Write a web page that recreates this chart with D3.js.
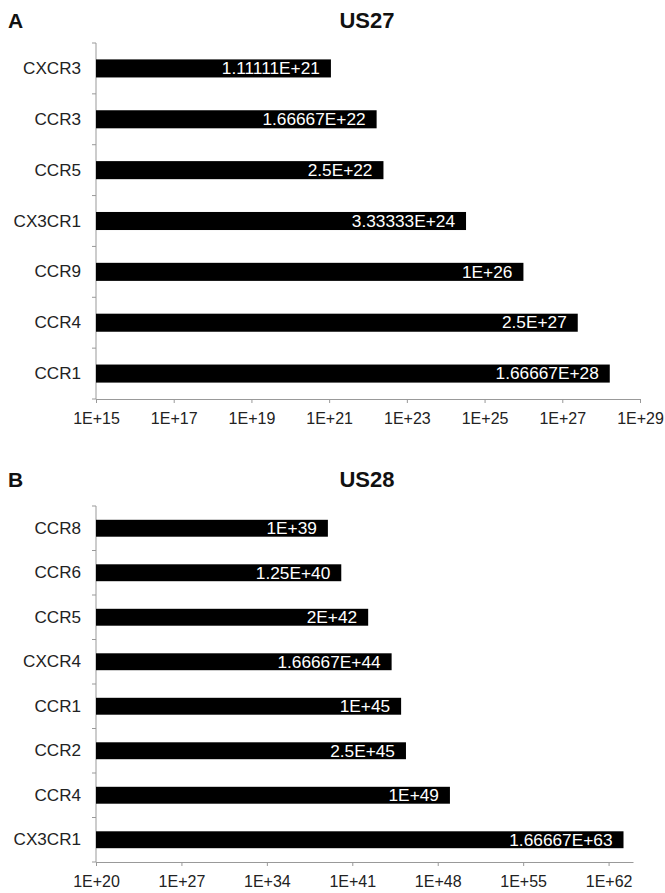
<!DOCTYPE html>
<html>
<head>
<meta charset="utf-8">
<script src="https://cdn.jsdelivr.net/npm/d3@7"></script>
<style>
  body { margin: 0; background: #fff; }
  svg { display: block; font-family: "Liberation Sans", Arial, sans-serif; }
</style>
</head>
<body>
<svg id="chart" width="665" height="893"></svg>
<script>
// Panel A - US27
const us27Receptors = ["CXCR3", "CCR3", "CCR5", "CX3CR1", "CCR9", "CCR4", "CCR1"];
const us27Values = [1.11111e21, 1.66667e22, 2.5e22, 3.33333e24, 1e26, 2.5e27, 1.66667e28];
const us27Ticks = [1e15, 1e17, 1e19, 1e21, 1e23, 1e25, 1e27, 1e29];

// Panel B - US28
const us28Receptors = ["CCR8", "CCR6", "CCR5", "CXCR4", "CCR1", "CCR2", "CCR4", "CX3CR1"];
const us28Values = [1e39, 1.25e40, 2e42, 1.66667e44, 1e45, 2.5e45, 1e49, 1.66667e63];
const us28Ticks = [1e20, 1e27, 1e34, 1e41, 1e48, 1e55, 1e62];

const svg = d3.select("#chart");

// excel "General" style: 1.66667E+28
function excelFmt(v) {
    let [m, e] = v.toExponential(5).split("e");
    m = String(parseFloat(m));
    return m + "E+" + parseInt(e, 10);
}

function drawPanel(cfg) {
    const g = svg.append("g");

    const x = d3.scaleLog()
        .domain(cfg.domain)
        .range([cfg.left, cfg.right]);

    const y = d3.scaleBand()
        .domain(cfg.cats)
        .range([cfg.top, cfg.bottom])
        .paddingInner(cfg.pad)
        .paddingOuter(cfg.pad / 2);

    // panel letter + title
    g.append("text")
        .attr("x", 8).attr("y", cfg.titleY)
        .attr("font-size", 21).attr("font-weight", "bold")
        .attr("fill", "#111")
        .text(cfg.letter);
    g.append("text")
        .attr("x", 367).attr("y", cfg.titleY)
        .attr("text-anchor", "middle")
        .attr("font-size", 22).attr("font-weight", "bold")
        .attr("fill", "#111")
        .text(cfg.title);

    // x axis
    const xAxis = d3.axisBottom(x)
        .tickValues(cfg.ticks)
        .tickFormat(excelFmt)
        .tickSizeInner(4)
        .tickSizeOuter(0)
        .tickPadding(10);

    g.append("g")
        .attr("transform", `translate(0,${cfg.bottom})`)
        .call(xAxis)
        .call(a => a.select(".domain").attr("stroke", "#999"))
        .call(a => a.selectAll(".tick line").attr("stroke", "#999"))
        .call(a => a.selectAll(".tick text")
            .attr("font-size", 16)
            .attr("font-family", "Liberation Sans, Arial, sans-serif")
            .attr("fill", "#222"));

    // y axis line + ticks at band boundaries
    const step = y.step();
    const bounds = d3.range(cfg.cats.length + 1).map(i => cfg.top + i * step);
    g.append("line")
        .attr("x1", cfg.left).attr("x2", cfg.left)
        .attr("y1", cfg.top).attr("y2", cfg.bottom)
        .attr("stroke", "#999");
    g.append("g")
        .selectAll("line")
        .data(bounds)
        .join("line")
        .attr("x1", cfg.left - 4).attr("x2", cfg.left)
        .attr("y1", d => d).attr("y2", d => d)
        .attr("stroke", "#999");

    // category labels (slightly wide, like the source)
    g.append("g")
        .selectAll("text")
        .data(cfg.cats)
        .join("text")
        .attr("transform", d => `translate(${cfg.left - 15},${y(d) + y.bandwidth() / 2}) scale(1.07,1)`)
        .attr("dy", "0.35em")
        .attr("text-anchor", "end")
        .attr("font-size", 16)
        .attr("fill", "#222")
        .text(d => d);

    const rows = cfg.cats.map((c, i) => ({cat: c, value: cfg.values[i]}));

    // bars
    g.append("g")
        .selectAll("rect")
        .data(rows)
        .join("rect")
        .attr("x", cfg.left)
        .attr("y", d => y(d.cat))
        .attr("width", d => x(d.value) - cfg.left)
        .attr("height", y.bandwidth())
        .attr("fill", "#000");

    // value labels inside bars
    g.append("g")
        .selectAll("text")
        .data(rows)
        .join("text")
        .attr("transform", d => `translate(${x(d.value) - 11},${y(d.cat) + y.bandwidth() / 2}) scale(1.08,1)`)
        .attr("dy", "0.36em")
        .attr("text-anchor", "end")
        .attr("font-size", 16)
        .attr("fill", "#fff")
        .text(d => excelFmt(d.value));
}

drawPanel({
    letter: "A", title: "US27", titleY: 28,
    cats: us27Receptors, values: us27Values, ticks: us27Ticks,
    domain: [1e15, 1e29],
    left: 96, right: 640, top: 43, bottom: 399, pad: 0.645
});

drawPanel({
    letter: "B", title: "US28", titleY: 487,
    cats: us28Receptors, values: us28Values, ticks: us28Ticks,
    domain: [1e20, 1e64],
    left: 96, right: 633, top: 506, bottom: 862, pad: 0.62
});
</script>
</body>
</html>
